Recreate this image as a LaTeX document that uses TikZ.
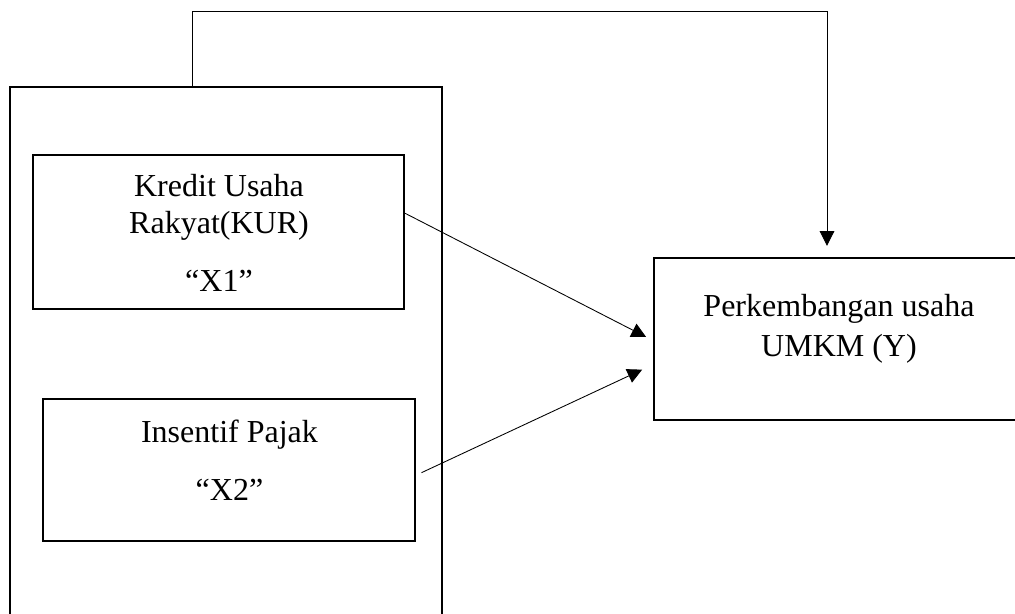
\documentclass[tikz,border=0pt]{standalone}
\usepackage{fontspec}
\setmainfont{Liberation Serif}
\usepackage{tikz}
\usetikzlibrary{arrows.meta,positioning}

\tikzset{
  varbox/.style={draw,line width=1.8pt,inner sep=0pt},
  link/.style={line width=0.65pt},
  linkarrow/.style={link,-{Triangle[length=11pt,width=11pt]}},
  lbl/.style={align=center,inner sep=0pt}
}

\begin{document}
\begin{tikzpicture}[x=0.75pt,y=-0.75pt,font=\fontsize{24pt}{27.75pt}\selectfont]
\useasboundingbox (0,0) rectangle (1015,614);
% ---- independent variables ----
\node[varbox,minimum width=324pt,minimum height=417pt] (outer) at (226,365) {};
\node[varbox,minimum width=278.25pt,minimum height=115.5pt] (x1) at (218.5,232) {};
\node[lbl] (x1txt) at (219,233) {Kredit Usaha\\Rakyat(KUR)\\[15.75pt]“X1”};
\node[varbox,minimum width=279pt,minimum height=106.5pt] (x2) at (229,470) {};
\node[lbl] (x2txt) at (229.5,460) {Insentif Pajak\\[15.75pt]“X2”};
% ---- dependent variable ----
\node[varbox,minimum width=289.5pt,minimum height=121.5pt] (y) at (847,339) {};
\node[lbl] (ytxt) at (839,329) {Perkembangan usaha\\[2.25pt]UMKM (Y)};
% ---- connectors ----
\coordinate (tl) at (192,11);
\coordinate (tr) at (827,11);
\draw[linkarrow] (outer.north -| tl) |- (tr) -- ([yshift=8.25pt]y.north -| tr);
\draw[linkarrow] ([yshift=14pt]x1.east) -- ([xshift=-5pt,yshift=1.5pt]y.west);
\draw[linkarrow] ([xshift=4pt,yshift=-2pt]x2.east) -- ([xshift=-8pt,yshift=-23pt]y.west);
\end{tikzpicture}
\end{document}
